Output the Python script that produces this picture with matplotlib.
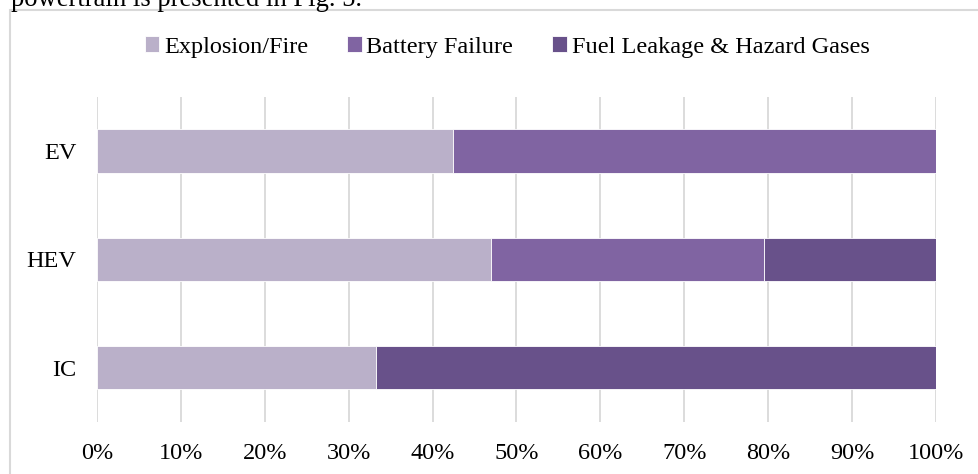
import matplotlib
matplotlib.use("Agg")
import matplotlib.pyplot as plt
from matplotlib.patches import Rectangle
import numpy as np

categories = ["EV", "HEV", "IC"]
series_names = ["Explosion/Fire", "Battery Failure", "Fuel Leakage & Hazard Gases"]
explosion_fire = [42.4, 47.0, 33.3]
battery_failure = [57.6, 32.5, 0.0]
fuel_leakage = [0.0, 20.5, 66.7]
tick_values = [0, 10, 20, 30, 40, 50, 60, 70, 80, 90, 100]
tick_labels = [f"{v}%" for v in tick_values]
colors = ["#BAB0C9", "#8064A2", "#68518A"]

plt.rcParams['font.family'] = ['Liberation Serif', 'DejaVu Serif']

W, H = 979, 474
FS = 17.5
fig = plt.figure(figsize=(W / 100, H / 100), dpi=100)

# outer chart frame (extends beyond the image on right/bottom)
fig.patches.append(Rectangle((10 / W, -0.05), 1.1, 1 - 9.5 / H + 0.05,
                             transform=fig.transFigure, fill=False,
                             edgecolor="#d9d9d9", linewidth=1.5, zorder=0))

# cut-off text of the surrounding document (cut at the image top, as in the source)
fig.text(11 / W, 1 - 5.5 / H, "powertrain is presented in Fig. 5.",
         fontsize=19.2, ha="left", va="baseline", color="black")

left, right = 97 / W, 936 / W
top, bottom = 1 - 96.7 / H, 1 - 421.7 / H
ax = fig.add_axes([left, bottom, right - left, top - bottom])

y = np.arange(len(categories))
series = [explosion_fire, battery_failure, fuel_leakage]
lefts = np.zeros(len(categories))
handles = []
for name, vals, c in zip(series_names, series, colors):
    vals = np.array(vals)
    b = ax.barh(y, vals, left=lefts, height=0.4, color=c, edgecolor="#ffffff",
                linewidth=0.6, label=name, zorder=3)
    handles.append(b)
    lefts = lefts + vals

ax.set_xlim(0, 100)
ax.set_ylim(len(categories) - 0.5, -0.5)
ax.set_yticks(y)
ax.set_yticklabels(categories, fontsize=FS)
ax.set_xticks(tick_values)
ax.set_xticklabels(tick_labels, fontsize=FS)
ax.tick_params(axis="both", length=0)
ax.tick_params(axis="x", pad=15)
ax.tick_params(axis="y", pad=15)
ax.grid(axis="x", color="#d9d9d9", linewidth=1.3, zorder=0)
ax.set_axisbelow(True)
for s in ax.spines.values():
    s.set_visible(False)

fig.legend(handles=handles, labels=series_names, loc="center",
           bbox_to_anchor=(507 / W, 1 - 47 / H), ncol=3, frameon=False,
           fontsize=FS, handlelength=0.6, handleheight=0.6,
           handletextpad=0.2, columnspacing=1.6, borderaxespad=0)

fig.savefig("out.png", dpi=100)
